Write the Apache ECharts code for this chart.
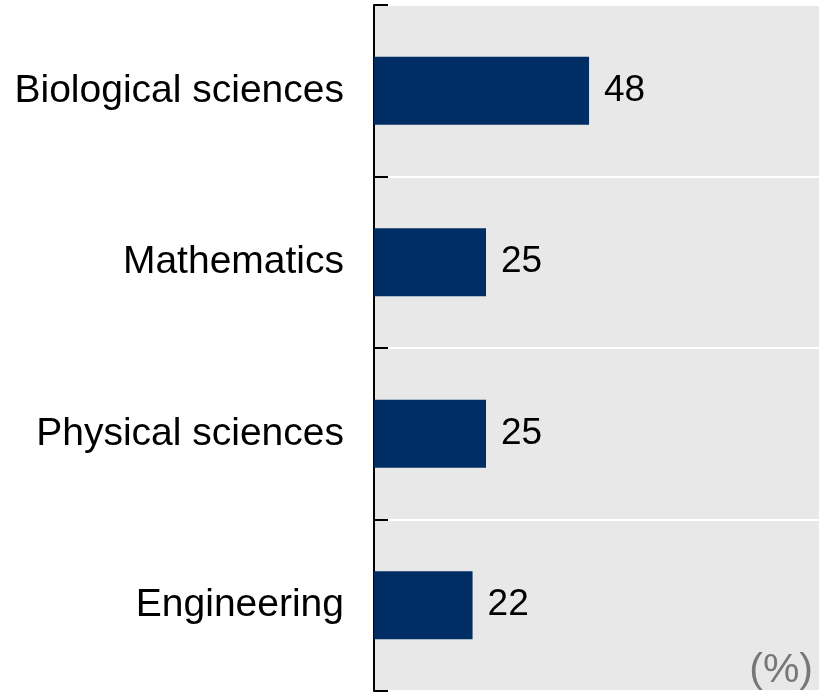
<!DOCTYPE html>
<html>
<head>
<meta charset="utf-8">
<script src="https://cdn.jsdelivr.net/npm/echarts@6/dist/echarts.min.js"></script>
<style>html,body{margin:0;padding:0;background:#fff}#c{width:819px;height:698px}</style>
</head>
<body>
<div id="c"></div>
<script>
const categories = ["Biological sciences", "Mathematics", "Physical sciences", "Engineering"];
const values = [48, 25, 25, 22];
const unitLabel = "(%)";

const chart = echarts.init(document.getElementById('c'), null, {renderer: 'canvas'});
chart.setOption({
  animation: false,
  grid: {
    left: 374, top: 5, bottom: 7, width: 448,
    outerBoundsMode: 'none', containLabel: false,
    show: true, backgroundColor: '#e8e8e8', borderWidth: 0
  },
  xAxis: {
    type: 'value', min: 0, max: 100, show: false
  },
  yAxis: {
    type: 'category', data: categories, inverse: true,
    axisLine: {show: true, lineStyle: {color: '#000', width: 2}},
    axisTick: {show: true, inside: true, length: 14, lineStyle: {color: '#000', width: 2}},
    splitLine: {show: true, lineStyle: {color: '#fff', width: 2}},
    axisLabel: {
      margin: 30, color: '#000', fontSize: 39,
      fontFamily: 'Liberation Sans, Arial, sans-serif'
    }
  },
  series: [{
    type: 'bar', data: values, barWidth: 68,
    itemStyle: {color: '#002D64'},
    label: {
      show: true, position: 'right', distance: 15, color: '#000',
      fontSize: 37, fontFamily: 'Liberation Sans, Arial, sans-serif'
    }
  }],
  graphic: [{
    type: 'text', right: 6, top: 650,
    style: {text: unitLabel, fill: '#777', fontSize: 41, fontFamily: 'Liberation Sans, Arial, sans-serif'}
  }]
});
</script>
</body>
</html>
